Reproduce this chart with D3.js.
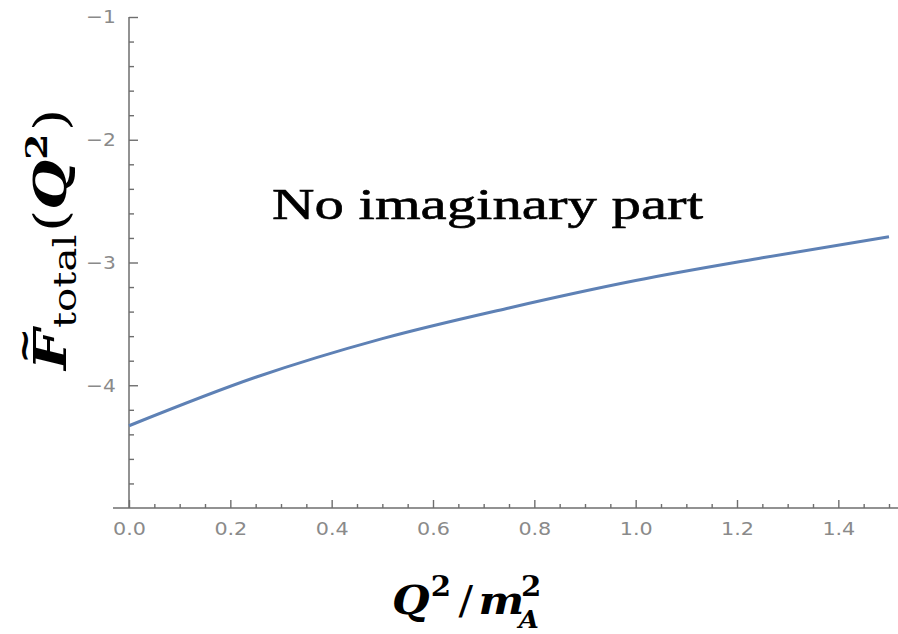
<!DOCTYPE html>
<html>
<head>
<meta charset="utf-8">
<script src="https://cdn.jsdelivr.net/npm/d3@7"></script>
<style>
  html, body { margin: 0; padding: 0; background: #fff; }
  svg { display: block; }
</style>
</head>
<body>
<svg id="chart" width="898" height="634"></svg>
<script>
// Form factor F~_total as a function of Q^2/m_A^2
const q2 = [0, 0.25, 0.5, 0.75, 1.0, 1.25, 1.5];
const fTotal = [-4.33, -3.935, -3.62, -3.37, -3.147, -2.962, -2.79];

const xMajorTicks = [0, 0.2, 0.4, 0.6, 0.8, 1.0, 1.2, 1.4];
const yMajorTicks = [-4, -3, -2, -1];
const xDomain = [0, 1.5];
const yDomain = [-5, -1];

const svg = d3.select("#chart");
const W = 898, H = 634;
const plotLeft = 129, plotRight = 889, plotTop = 17, plotBottom = 508;

const x = d3.scaleLinear().domain(xDomain).range([plotLeft, plotRight]);
const y = d3.scaleLinear().domain(yDomain).range([plotBottom, plotTop]);

const axisColor = "#6e6e6e";
const labelColor = "#8a8a8a";
const tickFont = "DejaVu Sans, sans-serif";
const mathFont = "DejaVu Serif, serif";

// Axis lines
svg.append("line")
  .attr("x1", x(0) - 16).attr("x2", W)
  .attr("y1", y(-5)).attr("y2", y(-5))
  .attr("stroke", axisColor).attr("stroke-width", 1.5);
svg.append("line")
  .attr("x1", x(0)).attr("x2", x(0))
  .attr("y1", y(-1)).attr("y2", y(-5))
  .attr("stroke", axisColor).attr("stroke-width", 1.5);

// X axis: major ticks with labels, minor ticks every 0.05
const xMinor = d3.range(0, 1.5001, 0.05).filter(v => Math.abs(v * 5 - Math.round(v * 5)) > 1e-6);
const gx = svg.append("g").attr("transform", `translate(0,${y(-5)})`);
gx.call(d3.axisBottom(x).tickValues(xMajorTicks).tickSize(-8).tickPadding(14)
  .tickFormat(d3.format(".1f")));
gx.append("g").call(d3.axisBottom(x).tickValues(xMinor).tickSize(-4).tickFormat(""));

// Y axis: major ticks with labels, minor ticks every 0.2
const yMinor = d3.range(-4.8, -1.0001, 0.2).filter(v => Math.abs(v - Math.round(v)) > 1e-6);
const gy = svg.append("g").attr("transform", `translate(${x(0)},0)`);
gy.call(d3.axisLeft(y).tickValues(yMajorTicks).tickSize(-9).tickPadding(10)
  .tickFormat(d => "\u2212" + Math.abs(d)));
gy.append("g").call(d3.axisLeft(y).tickValues(yMinor).tickSize(-5).tickFormat(""));

svg.selectAll(".domain").remove();
svg.selectAll(".tick line").attr("stroke", axisColor).attr("stroke-width", 1.4);
svg.selectAll(".tick text")
  .attr("fill", labelColor)
  .style("font-family", tickFont)
  .style("font-size", "18px");
// slightly wide tick lettering
gx.selectAll(".tick text").attr("transform", "scale(1.15,1)");
gy.selectAll(".tick text").attr("transform", "translate(-2,0) scale(1.12,1)");

// The curve
const line = d3.line()
  .x((d, i) => x(q2[i]))
  .y(d => y(d))
  .curve(d3.curveMonotoneX);
svg.append("path")
  .datum(fTotal)
  .attr("d", line)
  .attr("fill", "none")
  .attr("stroke", "#5E81B5")
  .attr("stroke-width", 3);

// Annotation
svg.append("text")
  .attr("x", 272).attr("y", 219)
  .attr("textLength", 431)
  .attr("lengthAdjust", "spacingAndGlyphs")
  .style("font-family", "Liberation Serif, serif")
  .style("font-size", "45px")
  .style("stroke", "#000").style("stroke-width", 0.6)
  .text("No imaginary part");

// Y axis title: F~_total(Q^2), rotated, reading bottom to top
const yLabelStart = 370, yLabelEnd = 106, yLabelBase = 66;
const yt = svg.append("g");
const ytText = yt.append("text")
  .attr("x", 0).attr("y", 0)
  .style("font-family", mathFont).style("font-size", "44px").attr("fill", "#000");
const fSpan = ytText.append("tspan").style("font-weight", "bold").style("font-style", "italic").text("F");
ytText.append("tspan").attr("dy", 10).attr("dx", 1).style("font-size", "31px").text("total");
ytText.append("tspan").attr("dy", -10).attr("dx", 2).text("(");
ytText.append("tspan").style("font-weight", "bold").style("font-style", "italic").text("Q");
ytText.append("tspan").attr("dy", -19).style("font-size", "29px").style("font-weight", "bold").text("2");
ytText.append("tspan").attr("dy", 19).attr("dx", 2).text(")");
const fLen = fSpan.node().getComputedTextLength();
// tilde over F
yt.append("text")
  .attr("x", fLen * 0.6).attr("y", -30)
  .attr("text-anchor", "middle")
  .style("font-family", mathFont).style("font-size", "34px").style("font-weight", "bold")
  .text("~");
const ytLen = ytText.node().getBBox().width;
const ytScale = (yLabelStart - yLabelEnd) / ytLen;
yt.attr("transform", `translate(${yLabelBase},${yLabelStart}) rotate(-90) scale(${ytScale},1)`);

// X axis title: Q^2 / m_A^2
const xt = svg.append("g").attr("transform", "translate(392,614) scale(1.08,1)");
const xtText = xt.append("text")
  .style("font-family", mathFont).style("font-size", "40px").attr("fill", "#000");
xtText.append("tspan").style("font-weight", "bold").style("font-style", "italic").text("Q");
xtText.append("tspan").attr("dy", -18).attr("dx", 1).style("font-size", "27px").style("font-weight", "bold").text("2");
xtText.append("tspan").attr("dy", 18).attr("dx", 7).text("/");
xtText.append("tspan").attr("dx", 5).style("font-weight", "bold").style("font-style", "italic").text("m");
const mEnd = xtText.node().getComputedTextLength();
// stacked subscript A and superscript 2 after m
xt.append("text")
  .attr("x", mEnd + 8).attr("y", 14)
  .style("font-family", mathFont).style("font-size", "24px")
  .style("font-weight", "bold").style("font-style", "italic").text("A");
xt.append("text")
  .attr("x", mEnd + 10).attr("y", -18)
  .style("font-family", mathFont).style("font-size", "27px")
  .style("font-weight", "bold").text("2");
</script>
</body>
</html>
